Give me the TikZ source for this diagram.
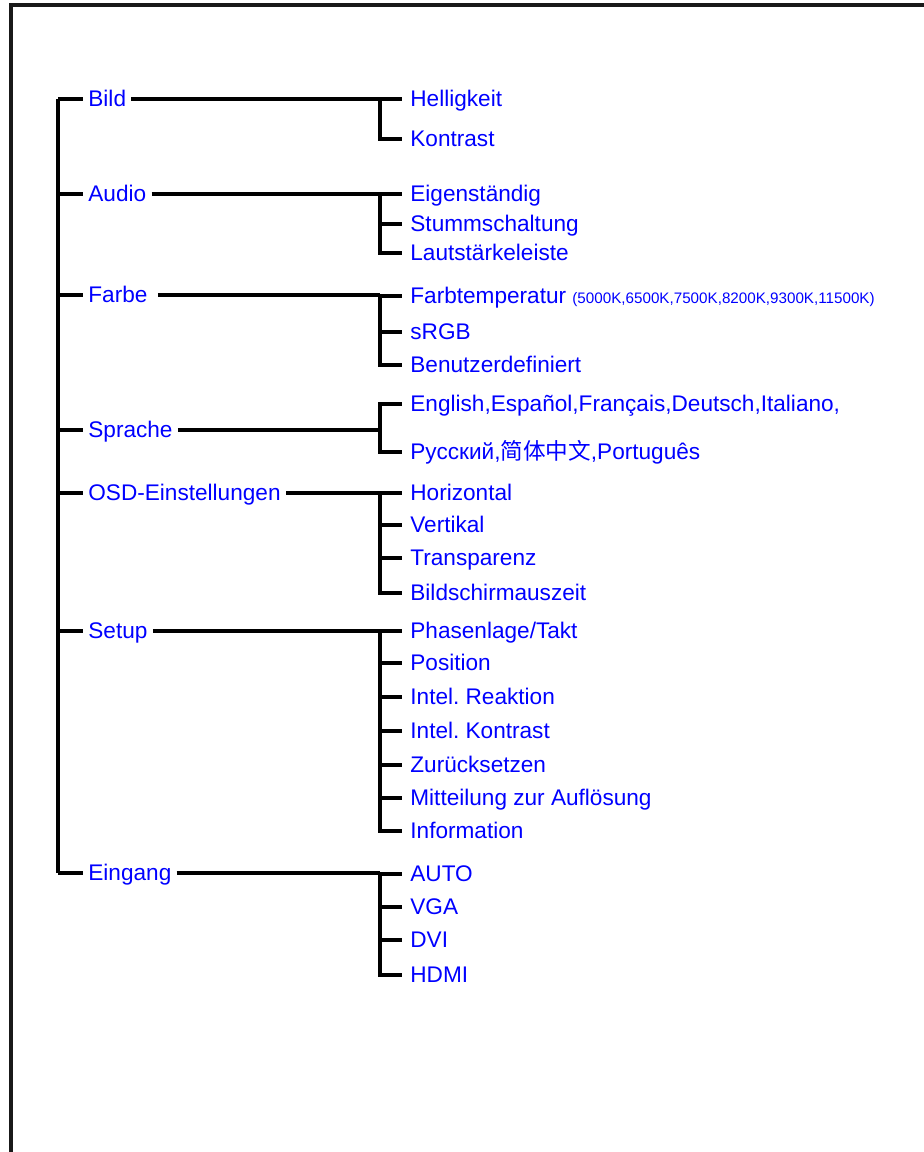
\documentclass[tikz,border=0pt]{standalone}
\usepackage{fontspec}
\setmainfont{Liberation Sans}
\newfontfamily\cjk{Noto Sans CJK SC}
\usepackage{tikz}
\usetikzlibrary{calc}
\frenchspacing
\definecolor{MenuBlue}{HTML}{0000FF}
\tikzset{
  menu/.style={anchor=west, text=MenuBlue, font=\fontsize{11.3}{13}\selectfont, text height=0.72em, text depth=0pt, inner ysep=0pt},
  topitem/.style={menu, inner xsep=2.5pt},
  subitem/.style={menu, inner xsep=4pt},
  conn/.style={line width=1.6pt, draw=black, line join=miter},
  frame/.style={line width=1.6pt, draw=black!90}
}

\begin{document}
\begin{tikzpicture}[x=0.5pt,y=-0.5pt]
\useasboundingbox (0,0) rectangle (924,1152);
\draw[frame] (924,5) -- (11,5) -- (11,1152);
\coordinate (trunk) at (58,99);
% menu tree
\foreach \g/\y/\lab/\gap/\kids in {
  bild/99/Bild/0/{Helligkeit/99,Kontrast/139},
  audio/194/Audio/0/{{Eigenständig}/194,Stummschaltung/224,{Lautstärkeleiste}/253},
  farbe/295/Farbe/2.5/{{Farbtemperatur {\fontsize{7.6}{9}\selectfont(5000K,6500K,7500K,8200K,9300K,11500K)}}/296,sRGB/332,Benutzerdefiniert/365},
  sprache/430/Sprache/0/{{English,Español,Français,Deutsch,Italiano,}/404,{Русский,{\cjk 简体中文},Português}/452},
  osd/493/OSD-Einstellungen/0/{Horizontal/493,Vertikal/525,Transparenz/558,Bildschirmauszeit/593},
  setup/631/Setup/0/{{Phasenlage/Takt}/631,Position/663,Intel. Reaktion/697,Intel. Kontrast/731,Zurücksetzen/765,Mitteilung zur Auflösung/798,Information/831},
  eingang/873/Eingang/0/{AUTO/874,VGA/907,DVI/940,HDMI/975}}{
  \node[topitem] (\g) at (83,\y) {\lab};
  \coordinate (\g-fork) at (380,\y);
  \draw[conn] (trunk |- \g.west) -- (\g.west);
  \draw[conn] ([xshift=\gap pt]\g.east) -- (\g-fork);
  \foreach \c/\cy [count=\i] in \kids {
    \node[subitem] (\g-\i) at (402,\cy) {\c};
    \draw[conn] (\g-fork) |- (\g-\i.west);
  }
}
\draw[conn] (trunk |- bild.west) -- (trunk |- eingang.west);
\end{tikzpicture}
\end{document}
